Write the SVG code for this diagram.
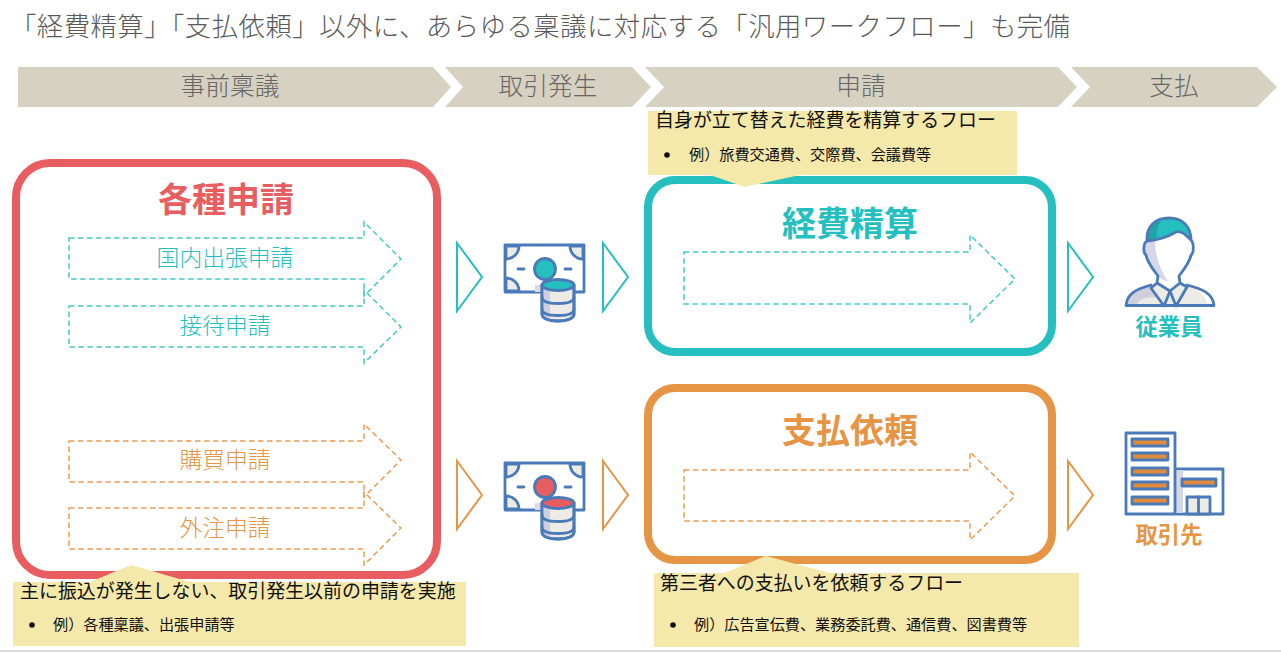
<svg xmlns="http://www.w3.org/2000/svg" xmlns:xlink="http://www.w3.org/1999/xlink" width="1281" height="652" viewBox="0 0 1281 652">
<style>
text{font-family:"Noto Sans CJK JP","Noto Sans",sans-serif}
.title{font-size:26.4px;fill:#595959;font-weight:300}
.chev{fill:#d7d1c2}
.chevt{font-size:24.7px;fill:#666;text-anchor:middle;font-weight:300}
.box{fill:#fff;stroke-width:8}
.h{font-size:34px;font-weight:700;text-anchor:middle}
.lab{font-size:22.8px;text-anchor:middle;font-weight:300}
.d{fill:none;stroke-width:1.5;stroke-dasharray:5.5 3.5}
.tri{fill:none;stroke-width:2}
.note{fill:#f5e8ab}
.n1{font-size:18.95px;fill:#111}
.n2{font-size:15.15px;fill:#111}
.who{font-size:22.3px;font-weight:700;text-anchor:middle}
.teal{fill:#25bfbf}.orange{fill:#e69545}.red{fill:#e85d5f}
.st{stroke:#25bfbf}.so{stroke:#e69545}.sd1{stroke:#45c9c9}.sd2{stroke:#eb9d55}
.ic{fill:none;stroke:#4a7ab8;stroke-width:2.800;stroke-linejoin:round;stroke-linecap:round}
</style>
<defs>
<g id="money">
<rect x="505" y="245" width="79" height="47" fill="#fff" class="ic"/>
<path d="M506 246h13a13 13 0 0 1-13 13zM583 246h-13a13 13 0 0 0 13 13zM506 291h13a13 13 0 0 0-13-13z" class="ic" style="fill:#ecebe6"/>
<rect x="535" y="285" width="8" height="7" fill="#d9d9e8"/>
<path d="M518 269h6M565 269h6" class="ic"/>
<circle cx="545" cy="269" r="10.500" class="ic" style="fill:currentColor"/>
<path d="M542 285v29c0 4.500 7 7 16 7s16-2.500 16-7v-29z" class="ic" style="fill:#ecebe6"/>
<path d="M543 287h7v32h-7z" fill="#cfcfe0"/>
<path d="M542 285v29c0 4.500 7 7 16 7s16-2.500 16-7v-29" class="ic"/>
<ellipse cx="558" cy="285" rx="16" ry="5.500" class="ic" style="fill:currentColor"/>
<path d="M542 297c0 4.500 7 6.500 16 6.500s16-2 16-6.500M542 309c0 4.500 7 6.500 16 6.500s16-2 16-6.500" class="ic"/>
</g>
</defs>

<g id="page-title"><text class="title" x="10" y="36" textLength="1060" lengthAdjust="spacing">「経費精算」「支払依頼」以外に、あらゆる稟議に対応する「汎用ワークフロー」も完備</text></g>

<g id="phase-1"><path class="chev" d="M18 67H433L451 87L433 107H18z"/><text class="chevt" x="230" y="95">事前稟議</text></g>
<g id="phase-2"><path class="chev" d="M445 67H632L651 87L632 107H445L463 87z"/><text class="chevt" x="548" y="95">取引発生</text></g>
<g id="phase-3"><path class="chev" d="M645 67H1058L1077 87L1058 107H645L664 87z"/><text class="chevt" x="861" y="95">申請</text></g>
<g id="phase-4"><path class="chev" d="M1071 67H1257L1277 87L1257 107H1071L1090 87z"/><text class="chevt" x="1174" y="95">支払</text></g>

<g id="applications">
<rect class="box" x="16" y="163" width="421" height="412" rx="34" stroke="#e85d5f"/>
<text class="h red" x="226" y="212">各種申請</text>
</g>
<g id="app-domestic"><path class="d sd1" d="M69 238H364V222L401 259L364 296V279H69z"/><text class="lab teal" x="225" y="266">国内出張申請</text></g>
<g id="app-entertain"><path class="d sd1" d="M69 306H364V290L401 327L364 363V347H69z"/><text class="lab teal" x="225" y="334">接待申請</text></g>
<g id="app-purchase"><path class="d sd2" d="M69 441H364V424L401 460L364 497V482H69z"/><text class="lab orange" x="225" y="468">購買申請</text></g>
<g id="app-outsource"><path class="d sd2" d="M69 508H364V492L401 528L364 565V549H69z"/><text class="lab orange" x="225" y="536">外注申請</text></g>

<g id="note-applications">
<path class="note" d="M13 582H90L131 565L190 582H466V646H13z"/>
<text class="n1" x="20" y="598">主に振込が発生しない、取引発生以前の申請を実施</text>
<circle cx="32" cy="625" r="2.800" fill="#111"/>
<text class="n2" x="53" y="630">例）各種稟議、出張申請等</text>
</g>

<g id="icon-money-teal" color="#25bfbf"><use href="#money" xlink:href="#money"/></g>
<g id="icon-money-orange" color="#e85d5f"><use href="#money" xlink:href="#money" y="218"/></g>

<g id="expense">
<rect class="box st" x="648" y="180" width="404" height="172" rx="27"/>
<text class="h teal" x="850" y="236">経費精算</text>
<path class="d sd1" d="M684 252H970V235L1015 279L970 323V304H684z"/>
</g>
<g id="note-expense">
<path class="note" d="M648 111H1017V175H800L745 187L710 175H648z"/>
<text class="n1" x="655" y="127">自身が立て替えた経費を精算するフロー</text>
<circle cx="667" cy="155" r="2.800" fill="#111"/>
<text class="n2" x="689" y="160">例）旅費交通費、交際費、会議費等</text>
</g>

<g id="payment">
<rect class="box so" x="648" y="388" width="404" height="172" rx="27"/>
<text class="h orange" x="850" y="443">支払依頼</text>
<path class="d sd2" d="M684 470H970V452L1015 496L970 540V521H684z"/>
</g>
<g id="note-payment">
<path class="note" d="M654 573H724L766 556L830 573H1079V647H654z"/>
<text class="n1" x="660" y="590">第三者への支払いを依頼するフロー</text>
<circle cx="673" cy="625" r="2.800" fill="#111"/>
<text class="n2" x="694" y="630">例）広告宣伝費、業務委託費、通信費、図書費等</text>
</g>

<g id="employee">
<path d="M1127 305C1128 295 1136 289 1150 284L1168 305z" fill="#d0d0dc"/>
<path d="M1136 305C1140 298 1150 296 1158 298L1163 305zM1172 305L1177 292L1187 285C1197 289 1206 294 1208 305z" fill="#ecebe6"/>
<path d="M1157 283L1170 291L1180 283L1180 274L1158 274z" fill="#fff"/>
<path d="M1157 284L1170 291L1180 284L1187 287L1176 305H1164L1151 288z" fill="#ecebe6"/>
<path d="M1147 241C1143 243 1143 253 1146 255C1147 262 1152 268 1158 276C1163 281 1178 281 1179 276C1185 268 1190 262 1191 255C1194 253 1194 243 1191 240C1186 236 1181 230 1176 232C1166 238 1157 240 1147 241z" fill="#fff"/>
<path d="M1147 241C1143 243 1143 253 1146 255C1147 262 1152 268 1158 276C1161 279 1165 281 1168 281C1160 270 1155 255 1155 240z" fill="#d5d6e8"/>
<path d="M1147 241C1146 226 1156 218 1169 218C1182 218 1191 226 1191 240C1186 235 1181 230 1176 232C1166 238 1157 240 1147 241z" class="teal"/>
<path d="M1147 241C1146 229 1153 221 1162 219C1158 225 1156 232 1157 239z" fill="#1fa5a5"/>
<path class="ic" d="M1147 241C1146 226 1156 218 1169 218C1182 218 1191 226 1191 240C1194 243 1194 253 1191 255C1190 262 1185 268 1179 276L1180 283M1147 241C1143 243 1143 253 1146 255C1147 262 1152 268 1158 276L1157 283M1147 241C1157 240 1166 238 1176 232C1181 230 1186 235 1191 240M1157 283L1170 291L1180 283L1187 287L1176 306L1170 291L1164 306L1151 288L1157 283M1126 305.500H1214C1213 294 1203 289 1187 285M1151 285C1136 289 1127 294 1126 305.500"/>
<text class="who teal" x="1169" y="335">従業員</text>
</g>

<g id="vendor">
<rect x="1176" y="469" width="47" height="45" fill="#fff" class="ic"/>
<rect x="1175" y="470" width="8" height="43" fill="#d5d6e8"/>
<rect x="1126" y="433" width="49" height="81" fill="#fff" class="ic"/>
<g class="ic">
<rect x="1132" y="439" width="36" height="7" style="fill:#e08a3c"/>
<rect x="1132" y="453" width="36" height="7" style="fill:#e08a3c"/>
<rect x="1132" y="468" width="36" height="7" style="fill:#e08a3c"/>
<rect x="1132" y="482" width="36" height="7" style="fill:#e08a3c"/>
<rect x="1132" y="497" width="36" height="7" style="fill:#e08a3c"/>
<rect x="1182" y="479" width="34" height="7" style="fill:#e08a3c"/>
<rect x="1187" y="497" width="23" height="17" style="fill:#ecebe6"/>
<path d="M1198.500 497v17"/>
</g>
<text class="who orange" x="1169" y="543">取引先</text>
</g>

<g id="connectors">
<path class="tri st" d="M457 243L482 277L457 311z"/>
<path class="tri st" d="M603 243L628 277L603 311z"/>
<path class="tri st" d="M1068 243L1093 277L1068 311z"/>
<path class="tri so" d="M457 461L482 495L457 529z"/>
<path class="tri so" d="M603 461L628 495L603 529z"/>
<path class="tri so" d="M1068 461L1093 495L1068 529z"/>
</g>
<rect x="0" y="650" width="1281" height="2" fill="#dcdcdc"/>
</svg>
